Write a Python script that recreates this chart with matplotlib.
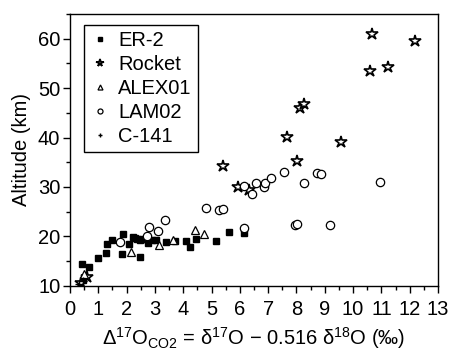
import matplotlib
matplotlib.use("Agg")
import matplotlib.pyplot as plt
from matplotlib.ticker import MultipleLocator

plt.rcParams['font.family'] = ['Liberation Sans', 'DejaVu Sans']
plt.rcParams['mathtext.fontset'] = 'custom'
plt.rcParams['mathtext.rm'] = 'Liberation Sans'
plt.rcParams['mathtext.it'] = 'Liberation Sans:italic'

# data: (D17O of CO2 in permil, altitude km)
er2_x = [0.43, 0.68, 0.47, 0.98, 1.32, 1.28, 1.50, 1.86, 1.82, 2.08, 2.22, 2.29, 2.38,
         2.47, 2.55, 2.46, 2.75, 2.70, 2.88, 3.05, 3.40, 3.71, 4.10, 4.23, 4.46, 5.15,
         5.62, 6.13]
er2_y = [14.4, 13.7, 11.2, 15.7, 18.5, 16.6, 19.2, 20.5, 16.4, 18.5, 19.8, 19.7, 19.4,
         19.3, 19.4, 15.8, 18.6, 19.4, 19.2, 19.2, 18.9, 19.1, 19.1, 17.8, 19.5, 19.1,
         20.8, 20.6]

rocket_x = [0.38, 0.60, 5.41, 5.94, 6.32, 7.68, 8.02, 8.12, 8.27, 9.58, 10.59, 10.68,
            11.25, 12.18]
rocket_y = [10.6, 11.7, 34.3, 30.0, 29.3, 40.1, 35.3, 46.0, 46.8, 39.1, 53.4, 61.0,
            54.2, 59.6]

alex_x = [0.50, 2.15, 3.15, 3.65, 4.40, 4.72]
alex_y = [12.3, 16.8, 18.2, 19.3, 21.2, 20.4]

lam_x = [1.75, 2.73, 2.78, 3.10, 3.34, 4.80, 5.26, 5.42, 6.14, 6.42, 6.57, 6.85, 6.88,
         7.09, 7.57, 8.26, 8.73, 8.85, 10.94, 7.94, 8.01, 9.20, 6.15]
lam_y = [18.8, 20.0, 21.8, 21.0, 23.3, 25.8, 25.4, 25.6, 30.1, 28.5, 30.7, 30.0, 30.8,
         31.9, 33.1, 30.8, 32.9, 32.6, 30.9, 22.3, 22.4, 22.3, 21.6]

c141_x = [0.33, 0.45]
c141_y = [10.4, 10.9]

fig = plt.figure(figsize=(4.54, 3.52), dpi=100)
ax = fig.add_axes([70 / 454, 1 - 285.7 / 352, 368 / 454, 271.7 / 352])

ax.plot(er2_x, er2_y, 's', color='black', markersize=5, label='ER-2')
ax.plot(rocket_x, rocket_y, '*', markerfacecolor='white', markeredgecolor='black',
        markeredgewidth=1.2, markersize=9, label='Rocket')
ax.plot(alex_x, alex_y, '^', markerfacecolor='white', markeredgecolor='black',
        markeredgewidth=0.9, markersize=6, label='ALEX01')
ax.plot(lam_x, lam_y, 'o', markerfacecolor='white', markeredgecolor='black',
        markeredgewidth=0.9, markersize=6, label='LAM02')
ax.plot(c141_x, c141_y, '+', color='black', markersize=6, label='C-141')

ax.set_xlim(0, 13)
ax.set_ylim(10, 65)
ax.xaxis.set_major_locator(MultipleLocator(1))
ax.xaxis.set_minor_locator(MultipleLocator(0.5))
ax.yaxis.set_major_locator(MultipleLocator(10))
ax.yaxis.set_minor_locator(MultipleLocator(5))
ax.set_yticks([10, 20, 30, 40, 50, 60])
ax.tick_params(which='both', direction='out', top=False, right=False, labelsize=14.5,
               width=1)
ax.tick_params(which='major', length=5)
ax.tick_params(which='minor', length=3)
ax.tick_params(axis='x', pad=5)
ax.tick_params(axis='y', pad=2)
for s in ax.spines.values():
    s.set_linewidth(1)

ax.set_ylabel('Altitude (km)', fontsize=14.5, labelpad=5)
ax.set_xlabel('Δ$^{17}$O$_{\\rm CO2}$ = δ$^{17}$O − 0.516 δ$^{18}$O (‰)',
              fontsize=14.5, labelpad=5)

leg = ax.legend(loc='upper left', bbox_to_anchor=(0.038, 0.96), borderaxespad=0,
                fontsize=14.5, fancybox=False, framealpha=1, edgecolor='black',
                handlelength=1.0, handletextpad=0.4, labelspacing=0.25,
                borderpad=0.3, markerscale=0.6)
leg.get_frame().set_linewidth(1)

fig.savefig('out.png', dpi=100)
